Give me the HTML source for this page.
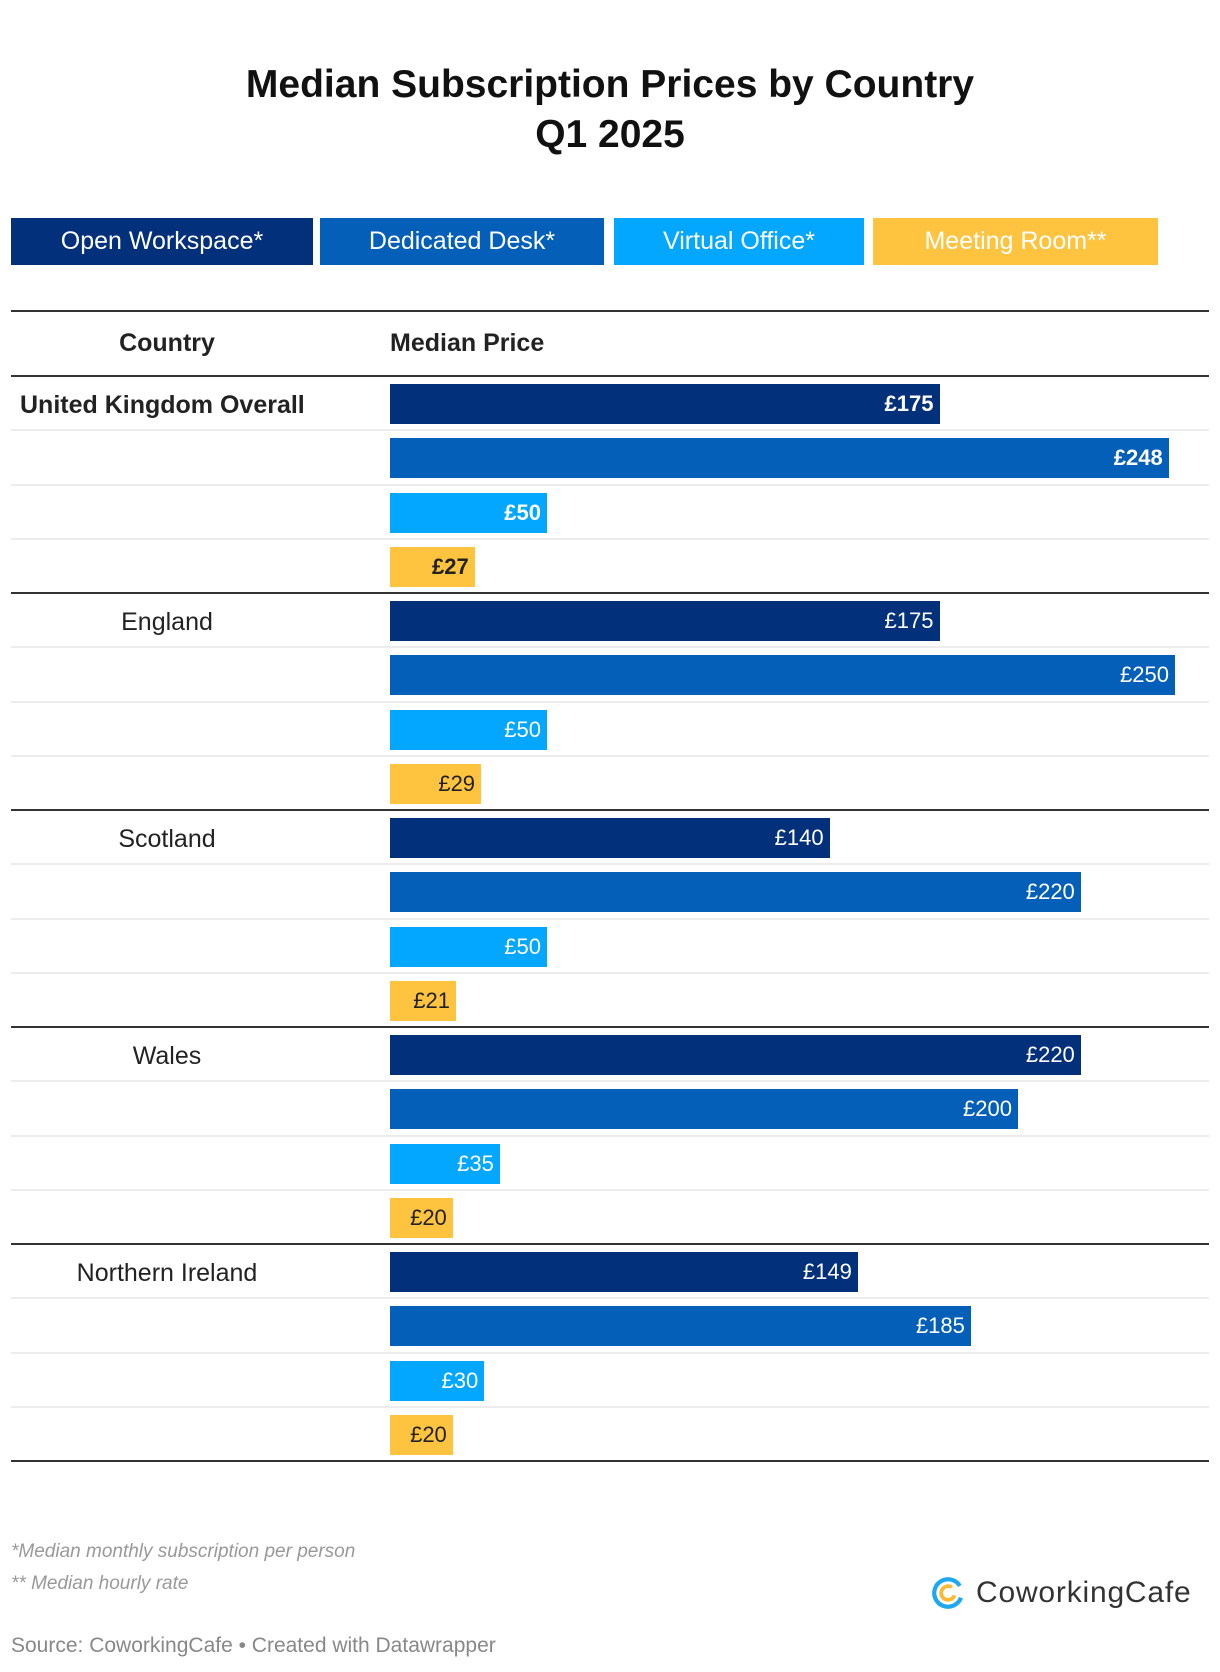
<!DOCTYPE html>
<html><head><meta charset="utf-8"><style>
body{margin:0;background:#fff;width:1220px;height:1672px;position:relative;font-family:"Liberation Sans",sans-serif;overflow:hidden}
.abs{position:absolute}
.title{left:0;width:1220px;text-align:center;font-weight:bold;font-size:39px;color:#111;line-height:50px}
.leg{top:218px;height:47px;color:#fff;font-size:25px;line-height:47px;text-align:center}
.hl{left:11px;width:1198px;height:2px;background:#333}
.ll{left:11px;width:1198px;height:2px;background:#ececec}
.bar{height:40px}
.lab{font-size:22px;line-height:40px;text-align:right;padding-right:6px;box-sizing:border-box;white-space:nowrap}
.cty{font-size:25px;color:#222;line-height:40px}
.foot{font-size:19px;color:#999;font-style:italic;left:11px}
</style></head><body>
<div class="abs title" style="top:60px">Median Subscription Prices by Country</div>
<div class="abs title" style="top:110px">Q1 2025</div>
<div class="abs leg" style="left:11px;width:302px;background:#03307a">Open Workspace*</div>
<div class="abs leg" style="left:320px;width:284px;background:#035fb7">Dedicated Desk*</div>
<div class="abs leg" style="left:614px;width:250px;background:#03a7ff">Virtual Office*</div>
<div class="abs leg" style="left:873px;width:285px;background:#fec33f">Meeting Room**</div>
<div class="abs hl" style="top:310px"></div>
<div class="abs" style="left:11px;width:312px;top:329px;text-align:center;font-weight:bold;font-size:25px;color:#222">Country</div>
<div class="abs" style="left:390px;top:329px;font-weight:bold;font-size:25px;color:#222">Median Price</div>
<div class="abs hl" style="top:375px"></div>
<div id="rows"></div>
<div class="abs foot" style="top:1541px">*Median monthly subscription per person</div>
<div class="abs foot" style="top:1573px">** Median hourly rate</div>
<div class="abs" style="left:11px;top:1634px;font-size:21px;color:#888">Source: CoworkingCafe • Created with Datawrapper</div>
<div class="abs" style="left:930px;top:1575px;height:36px;display:flex;align-items:center">
<svg width="36" height="36" viewBox="0 0 34 34"><circle cx="17" cy="17" r="13" fill="none" stroke="#1ea8f0" stroke-width="4" stroke-dasharray="70 12" transform="rotate(20 17 17)"/><circle cx="17" cy="17" r="6.5" fill="none" stroke="#fbb934" stroke-width="3.5" stroke-dasharray="32 9" transform="rotate(20 17 17)"/></svg>
<span style="font-size:30px;color:#333;margin-left:10px;letter-spacing:0.8px">CoworkingCafe</span></div>
<script>
const countries=["United Kingdom Overall","England","Scotland","Wales","Northern Ireland"];
const openWorkspace=[175,175,140,220,149];
const dedicatedDesk=[248,250,220,200,185];
const virtualOffice=[50,50,50,35,30];
const meetingRoom=[27,29,21,20,20];
const series=[openWorkspace,dedicatedDesk,virtualOffice,meetingRoom];
const seriesNames=["open-workspace","dedicated-desk","virtual-office","meeting-room"];
const colors=["#03307a","#035fb7","#03a7ff","#fec33f"];
const x0=390, pxPer=3.14;
function xs(v){return v*pxPer;}
const root=document.getElementById('rows');
countries.forEach((c,g)=>{
  const gt=376+g*217;
  if(g>0){const l=document.createElement('div');l.className='abs hl';l.style.top=(gt-1)+'px';
  
  root.appendChild(l);}
  const cl=document.createElement('div');cl.className='abs cty';
  
  
  cl.textContent=c;
  if(g===0){cl.style.left='20px';cl.style.fontWeight='bold';}
  else{cl.style.left='11px';cl.style.width='312px';cl.style.textAlign='center';}
  cl.style.top=(gt+9)+'px';root.appendChild(cl);
  for(let s=0;s<4;s++){
    const top=gt+8+s*54.3;
    if(s>0){const l=document.createElement('div');l.className='abs ll';l.style.top=(top-9)+'px';
    
    root.appendChild(l);}
    const v=series[s][g];
    const b=document.createElement('div');b.className='abs bar lab';
    
    
    b.style.left=x0+'px';b.style.top=top+'px';b.style.width=xs(v)+'px';
    b.style.background=colors[s];b.style.color=s===3?'#222':'#fff';
    if(g===0)b.style.fontWeight='bold';
    b.textContent='£'+v;root.appendChild(b);
  }
});
const last=document.createElement('div');last.className='abs hl';last.style.top=(376+5*217-1)+'px';

root.appendChild(last);
</script>
</body></html>
